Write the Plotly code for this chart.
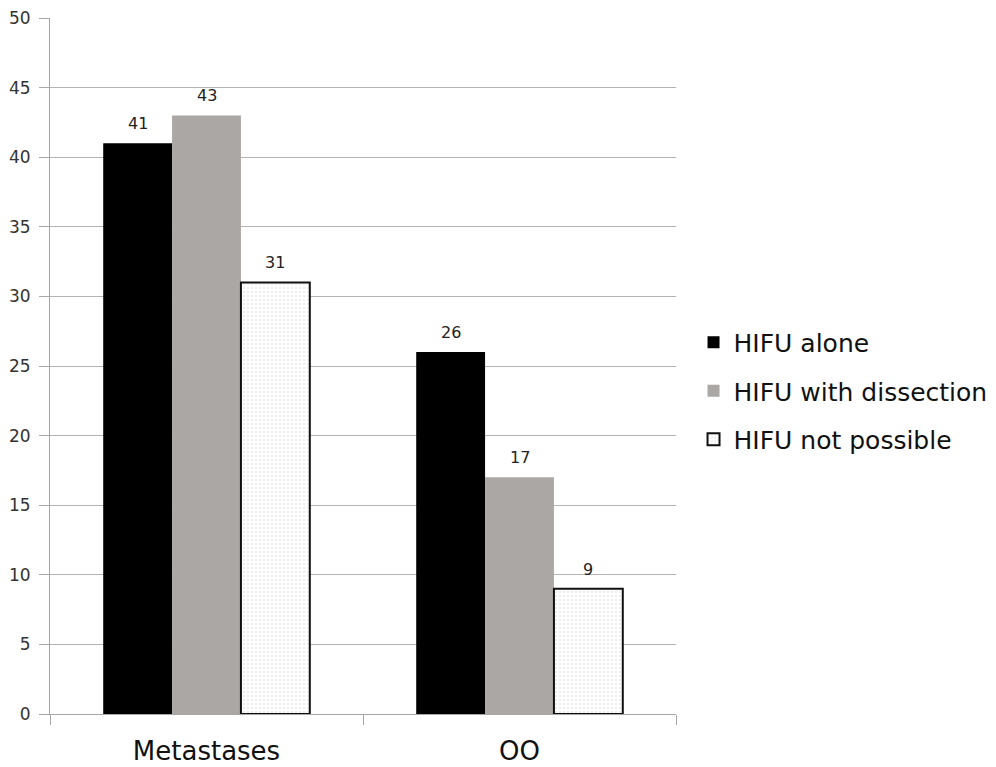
import plotly.graph_objects as go

categories = ["Metastases", "OO"]
series_names = ["HIFU alone", "HIFU with dissection", "HIFU not possible"]
hifu_alone = [41, 26]
hifu_dissection = [43, 17]
hifu_not_possible = [31, 9]
y_ticks = [0, 5, 10, 15, 20, 25, 30, 35, 40, 45, 50]

FONT = "DejaVu Sans"
BARGAP = 0.34
all_series = [hifu_alone, hifu_dissection, hifu_not_possible]

fig = go.Figure()
fig.add_trace(go.Bar(
    name=series_names[0], x=categories, y=hifu_alone, legendgroup="a",
    marker=dict(color="#000000", line=dict(width=0)),
))
fig.add_trace(go.Bar(
    name=series_names[1], x=categories, y=hifu_dissection, legendgroup="b",
    marker=dict(color="#aaa7a5", line=dict(width=0)),
))
fig.add_trace(go.Bar(
    name=series_names[2], x=categories, y=hifu_not_possible, legendgroup="c",
    marker=dict(color="#ffffff", line=dict(width=2, color="#111111"),
                pattern=dict(shape=".", fgcolor="#dedede", bgcolor="#ffffff",
                             size=4, solidity=0.35)),
))

# value labels above each bar, placed on the category axis at the group offsets
bar_w = (1 - BARGAP) / len(all_series)
for j, series in enumerate(all_series):
    for i, v in enumerate(series):
        fig.add_annotation(
            x=i + (j - (len(all_series) - 1) / 2) * bar_w, y=v,
            text=str(v), showarrow=False, yanchor="bottom", yshift=8,
            font=dict(size=16, color="#222222", family=FONT),
        )

fig.update_layout(
    width=996, height=767,
    margin=dict(l=42, r=328, t=10, b=61, autoexpand=False),
    paper_bgcolor="white", plot_bgcolor="white",
    barmode="group", bargap=BARGAP, bargroupgap=0,
    font=dict(family=FONT, color="#222222"),
    showlegend=True,
    legend=dict(x=1.028, y=0.464, yanchor="middle", xanchor="left",
                font=dict(size=25, color="#111111", family=FONT),
                tracegroupgap=13, itemwidth=30, bgcolor="rgba(0,0,0,0)"),
)
fig.update_xaxes(
    type="category", showgrid=False, showline=True, linecolor="#a6a6a6", linewidth=1,
    ticks="outside", tickson="boundaries", ticklen=10, tickcolor="#a6a6a6",
    ticklabelstandoff=14,
    tickfont=dict(size=26, color="#111111", family=FONT),
)
fig.update_yaxes(
    range=[0, 50], tickvals=y_ticks, showgrid=True, gridcolor="#b3b3b3", gridwidth=1,
    showline=True, linecolor="#a6a6a6", linewidth=1,
    ticks="outside", ticklen=10, tickcolor="#a6a6a6",
    ticklabelstandoff=5, ticklabeloverflow="allow",
    tickfont=dict(size=17, color="#333333", family=FONT), zeroline=False,
)
fig.write_html("out.html")
